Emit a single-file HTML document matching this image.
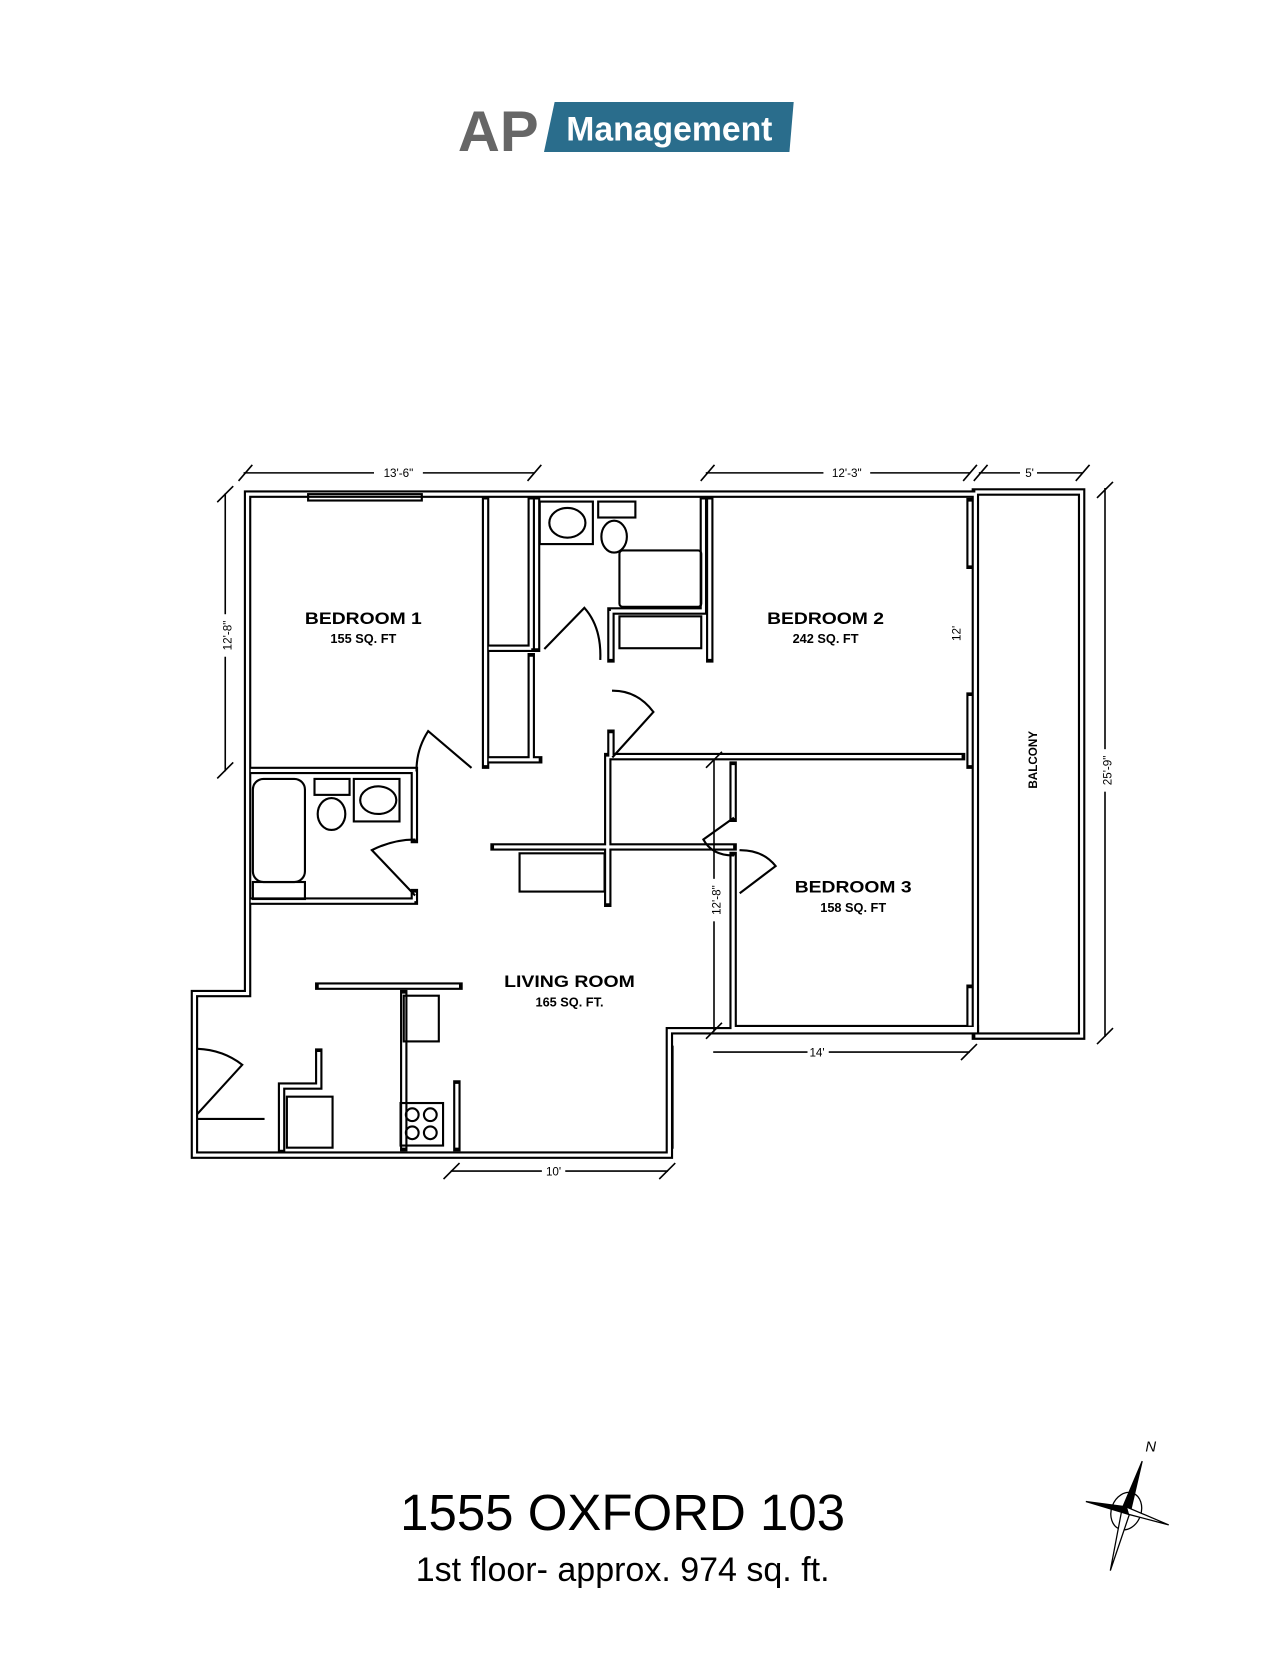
<!DOCTYPE html>
<html><head><meta charset="utf-8"><style>
html,body{margin:0;padding:0;background:#fff;}
svg{display:block;}
</style></head><body>
<svg width="1275" height="1662" viewBox="0 0 1200 1564" preserveAspectRatio="none" xmlns="http://www.w3.org/2000/svg">
<rect width="1200" height="1564" fill="#fff"/>
<!-- logo -->
<text x="431" y="142" font-family="Liberation Sans, sans-serif" font-weight="bold" font-size="54" fill="#666" textLength="76" lengthAdjust="spacingAndGlyphs">AP</text>
<polygon points="522,96 747,96 743,143 512,143" fill="#2a6d8c"/>
<text x="533" y="132" font-family="Liberation Sans, sans-serif" font-weight="bold" font-size="32" fill="#fff" textLength="194" lengthAdjust="spacingAndGlyphs">Management</text>

<defs>
<g id="walls">
<path d="M233,465 H918 V970 H630 V1087 H183 V935 H233 Z"/>
<path d="M918,463 H1018 V975 H918"/>
<path d="M457,470 V720 M460,610 H500 M500,470 V610 M500,618 V715 M460,715 H507"/>
<path d="M236,725 H390 V790 M390,848 H236 M390,840 V848"/>
<path d="M505,470 V610 M668,470 V620 M575,575 V620 M575,575 H662 V470 M575,690 V712 H905 M572,712 V850"/>
<path d="M690,720 V770 M690,805 V968 H918"/>
<path d="M465,797 H690"/>
<path d="M300,928 H432"/>
<path d="M380,935 V1080 M430,1020 V1080 M300,990 V1022 H265 V1082"/>
<path d="M913,472 V532 M913,655 V720 M913,930 V965"/>
</g>
</defs>
<g fill="none" stroke="#000" stroke-linecap="square">
<use href="#walls" stroke-width="7"/>
<use href="#walls" stroke="#fff" stroke-width="3" stroke-linecap="butt"/>
<g stroke-width="2">
<!-- fixtures -->
<rect x="290" y="465" width="107" height="6"/>
<rect x="238" y="733" width="49" height="97" rx="10"/>
<rect x="238" y="830" width="49" height="16"/>
<rect x="296" y="733" width="33" height="15"/>
<ellipse cx="312" cy="766" rx="13" ry="15"/>
<rect x="333" y="733" width="43" height="40"/>
<ellipse cx="356" cy="753" rx="17" ry="13"/>
<rect x="508" y="472" width="50" height="40"/>
<ellipse cx="534" cy="492" rx="17" ry="14"/>
<rect x="563" y="472" width="35" height="15"/>
<ellipse cx="578" cy="505" rx="12" ry="15"/>
<rect x="583" y="518" width="77" height="53" rx="3"/>
<rect x="583" y="580" width="77" height="30"/>
<rect x="489" y="803" width="80" height="36"/>
<rect x="380" y="937" width="33" height="43"/>
<rect x="377" y="1038" width="40" height="40"/>
<circle cx="388" cy="1049" r="6"/><circle cx="405" cy="1049" r="6"/><circle cx="388" cy="1066" r="6"/><circle cx="405" cy="1066" r="6"/>
<rect x="270" y="1032" width="43" height="48"/>
<path d="M187,1053 H248"/>
<!-- doors -->
<path d="M443,722 L403,688 Q392,705 392,725"/>
<path d="M390,842 L350,800 Q370,790 390,790"/>
<path d="M513,610 L550,572 Q566,590 565,620"/>
<path d="M577,712 L615,670 Q600,650 577,650"/>
<path d="M690,770 L662,790 Q670,805 690,805"/>
<path d="M697,840 L730,815 Q718,800 697,800"/>
<path d="M186,1048 L228,1002 Q210,988 186,987"/>
<path d="M633,985 V1080"/>
</g>
<!-- dimension lines -->
<g stroke-width="1.5">
<path d="M230,445 H502 M665,445 H912 M922,445 H1018 M212,465 V725 M1040,460 V975 M672,715 V970 M672,990 H912 M425,1102 H628"/>
<path d="M225,452 L237,438 M497,452 L509,438 M660,452 L672,438 M907,452 L919,438 M917,452 L929,438 M1013,452 L1025,438 M205,472 L219,458 M205,732 L219,718 M1033,468 L1047,454 M1033,982 L1047,968 M665,722 L679,708 M665,977 L679,963 M905,997 L919,983 M418,1109 L432,1095 M621,1109 L635,1095"/>
</g>
</g>
<g font-family="Liberation Sans, sans-serif" fill="#000" text-anchor="middle">
<g font-size="11"><rect x="352" y="438" width="46" height="14" fill="#fff"/><text x="375" y="449">13'-6"</text>
<rect x="775" y="438" width="44" height="14" fill="#fff"/><text x="797" y="449">12'-3"</text>
<rect x="960" y="438" width="16" height="14" fill="#fff"/><text x="969" y="449">5'</text>
<rect x="760" y="983" width="20" height="14" fill="#fff"/><text x="769" y="994">14'</text>
<rect x="510" y="1095" width="22" height="14" fill="#fff"/><text x="521" y="1106">10'</text>
<g transform="translate(216,598) rotate(-90)"><rect x="-20" y="-9" width="40" height="14" fill="#fff"/><text y="2">12'-8"</text></g>
<g transform="translate(1044,725) rotate(-90)"><rect x="-20" y="-9" width="40" height="14" fill="#fff"/><text y="2">25'-9"</text></g>
<g transform="translate(676,847) rotate(-90)"><rect x="-20" y="-9" width="40" height="14" fill="#fff"/><text y="2">12'-8"</text></g>
<g transform="translate(902,596) rotate(-90)"><text y="2">12'</text></g>
<g transform="translate(972,715) rotate(-90)" font-weight="bold"><text y="4">BALCONY</text></g>
</g>
<g font-weight="bold">
<text x="342" y="587" font-size="16" textLength="110" lengthAdjust="spacingAndGlyphs">BEDROOM 1</text><text x="342" y="605" font-size="12">155 SQ. FT</text>
<text x="777" y="587" font-size="16" textLength="110" lengthAdjust="spacingAndGlyphs">BEDROOM 2</text><text x="777" y="605" font-size="12">242 SQ. FT</text>
<text x="803" y="840" font-size="16" textLength="110" lengthAdjust="spacingAndGlyphs">BEDROOM 3</text><text x="803" y="858" font-size="12">158 SQ. FT</text>
<text x="536" y="929" font-size="16" textLength="123" lengthAdjust="spacingAndGlyphs">LIVING ROOM</text><text x="536" y="947" font-size="12">165 SQ. FT.</text>
</g>
<text x="586" y="1440" font-size="48">1555 OXFORD 103</text>
<text x="586" y="1488" font-size="32">1st floor- approx. 974 sq. ft.</text>
</g>
<!-- compass -->
<g stroke="#000" stroke-width="1.2" fill="#fff">
<ellipse cx="1060" cy="1422" rx="14" ry="18" transform="rotate(20 1060 1422)"/>
<polygon points="1075,1375 1064,1422 1056,1420" fill="#000"/>
<polygon points="1045,1478 1056,1420 1064,1422"/>
<polygon points="1100,1435 1062,1425 1060,1418"/>
<polygon points="1022,1413 1060,1418 1062,1425" fill="#000"/>
</g>
<text x="1078" y="1366" font-family="Liberation Sans, sans-serif" font-size="14" font-style="italic">N</text>
</svg>
</body></html>
